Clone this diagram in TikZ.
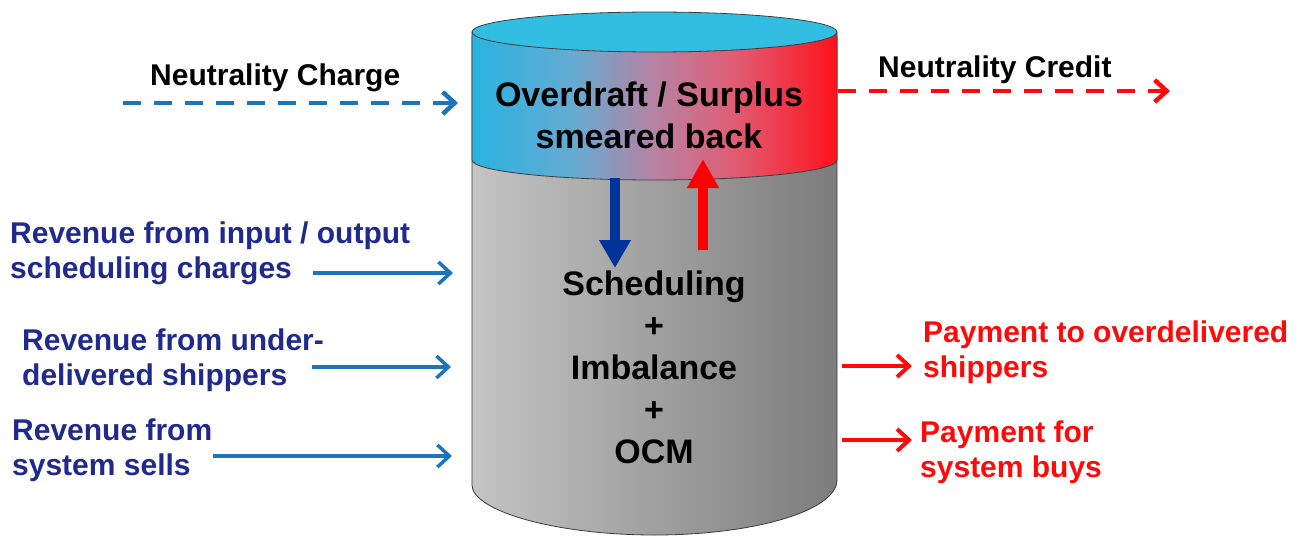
\documentclass[tikz,border=0pt]{standalone}
\usepackage{fontspec}
\setmainfont{Liberation Sans}
\usetikzlibrary{arrows.meta}

\definecolor{navytext}{RGB}{31,42,140}
\definecolor{flowblue}{RGB}{27,117,190}
\definecolor{flowred}{RGB}{255,10,10}
\definecolor{downblue}{RGB}{0,51,153}
\definecolor{capcyan}{RGB}{50,190,226}
\definecolor{bodylight}{RGB}{196,196,196}
\definecolor{bodydark}{RGB}{124,124,124}
\definecolor{edge}{RGB}{60,60,60}

% cyan-to-red blend of the upper band (the path spans 25bp..75bp of the shading)
\pgfdeclarehorizontalshading{bandblend}{100bp}{
  rgb(0bp)=(0.16,0.70,0.88);
  rgb(25bp)=(0.16,0.70,0.88);
  rgb(39bp)=(0.40,0.67,0.82);
  rgb(50bp)=(0.72,0.51,0.64);
  rgb(61bp)=(0.88,0.36,0.45);
  rgb(75bp)=(1.00,0.07,0.11);
  rgb(100bp)=(1.00,0.07,0.11)}

% multi-line labels are placed by the baseline of their last line
\tikzset{
  lbl/.style={inner sep=0pt, anchor=base west, align=left, font=\bfseries\fontsize{30}{35}\selectfont},
  inlbl/.style={inner sep=0pt, anchor=base, align=center, font=\bfseries\fontsize{34}{42}\selectfont, text=black},
  inflow/.style={draw=flowblue, line width=3.5pt, -{Straight Barb[length=12pt,width=22pt]}},
  outflow/.style={draw=flowred, line width=4pt, -{Straight Barb[length=12pt,width=22pt]}},
  dashflow/.style={line width=4.5pt, dash pattern=on 18pt off 13pt, -{Straight Barb[length=12pt,width=22pt]}},
}

\begin{document}
\begin{tikzpicture}[x=1pt,y=-1pt]
\useasboundingbox (0,0) rectangle (1309,538);

% grey body of the tank
\shade[left color=bodylight, right color=bodydark, draw=edge, line width=0.8pt, rounded corners=5pt]
  (472,32) -- (472,480)
  [sharp corners] arc[start angle=180, end angle=360, x radius=182.5pt, y radius=55pt]
  [rounded corners=5pt] -- (837,480) -- (837,32) -- cycle;

% coloured upper band
\shade[shading=bandblend, draw=edge, line width=0.8pt]
  (472,32) -- (472,160)
  arc[start angle=180, end angle=360, x radius=182.5pt, y radius=20pt]
  -- (837,32) -- cycle;

% lid
\fill[capcyan, draw=edge, line width=0.8pt] (654.5,32) ellipse[x radius=182.5pt, y radius=20pt];

% texts inside the tank
\node[inlbl] (smear) at (649,148) {Overdraft / Surplus\\smeared back};
\node[inlbl] (pool) at (654,463) {Scheduling\\+\\Imbalance\\+\\OCM};

% flows between the two parts of the tank
\coordinate (dnA) at (615,178);
\coordinate (dnB) at (615,268);
\coordinate (upA) at (703,250);
\coordinate (upB) at (703,159);
\draw[downblue, line width=10pt, -{Triangle[width=30pt,length=28pt]}] (dnA) -- (dnB);
\draw[red, line width=10pt, -{Triangle[width=30pt,length=29pt]}] (upA) -- (upB);

% neutrality charge / credit
\node[lbl, text=black] (ncharge) at (150,85) {Neutrality Charge};
\node[lbl, text=black] (ncredit) at (878,77) {Neutrality Credit};
\coordinate (ncA) at (123,103);
\coordinate (ncB) at (458,103);
\coordinate (crA) at (838,91);
\coordinate (crB) at (1170,91);
\draw[dashflow, flowblue] (ncA) -- (ncB);
\draw[dashflow, flowred] (crA) -- (crB);

% revenues flowing in
\node[lbl, text=navytext] (rev1) at (10,278) {Revenue from input / output\\scheduling charges};
\node[lbl, text=navytext] (rev2) at (22,385) {Revenue from under-\\delivered shippers};
\node[lbl, text=navytext] (rev3) at (12,475) {Revenue from\\system sells};
\coordinate (r1A) at (313,273);
\coordinate (r1B) at (453,273);
\coordinate (r2A) at (312,367);
\coordinate (r2B) at (451,367);
\coordinate (r3A) at (213,456);
\coordinate (r3B) at (452,456);
\draw[inflow] (r1A) -- (r1B);
\draw[inflow] (r2A) -- (r2B);
\draw[inflow] (r3A) -- (r3B);

% payments flowing out
\node[lbl, text=flowred] (pay1) at (923,377) {Payment to overdelivered\\shippers};
\node[lbl, text=flowred] (pay2) at (920,477) {Payment for\\system buys};
\coordinate (p1A) at (842,366);
\coordinate (p1B) at (912,366);
\coordinate (p2A) at (842,440);
\coordinate (p2B) at (912,440);
\draw[outflow] (p1A) -- (p1B);
\draw[outflow] (p2A) -- (p2B);
\end{tikzpicture}
\end{document}
